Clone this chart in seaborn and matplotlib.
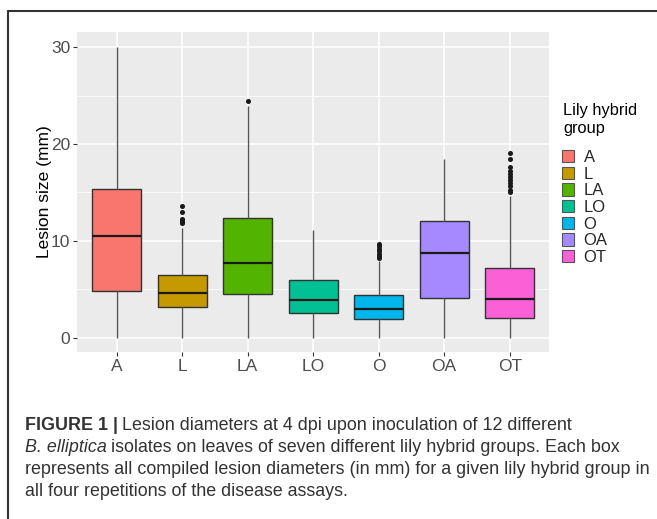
import numpy as np
import pandas as pd
import seaborn as sns
import matplotlib
matplotlib.use("Agg")
import matplotlib.pyplot as plt
from matplotlib.patches import Patch
from matplotlib.lines import Line2D

# ---- data ----
groups = ["A", "L", "LA", "LO", "O", "OA", "OT"]
whisker_lo = [0.0, 0.0, 0.0, 0.0, 0.0, 0.0, 0.0]
q1 = [4.86, 3.17, 4.55, 2.55, 1.92, 4.14, 2.07]
median = [10.5, 4.6, 7.76, 3.93, 3.0, 8.75, 4.03]
q3 = [15.37, 6.5, 12.35, 6.0, 4.4, 12.1, 7.17]
whisker_hi = [30.06, 11.33, 23.9, 11.1, 7.9, 18.5, 14.6]
outliers_A = []
outliers_L = [11.85, 12.0, 12.15, 12.3, 13.0, 13.6]
outliers_LA = [24.4]
outliers_LO = []
outliers_O = [8.2, 8.45, 8.7, 8.95, 9.2, 9.45, 9.65]
outliers_OA = []
outliers_OT = [15.0, 15.3, 15.7, 16.0, 16.3, 16.6, 16.9, 17.2, 17.6, 18.5, 19.1]
outliers = [outliers_A, outliers_L, outliers_LA, outliers_LO,
            outliers_O, outliers_OA, outliers_OT]
colors = ["#F8766D", "#C49A00", "#53B400", "#00C094", "#00B6EB", "#A58AFF", "#FB61D7"]
yticks = [0, 10, 20, 30]
ylabel = "Lesion size (mm)"
legend_title = "Lily hybrid\ngroup"

# build a sample per group whose box statistics equal the values above
rows = []
for g, lo, a, m, b, hi, outs in zip(groups, whisker_lo, q1, median, q3, whisker_hi, outliers):
    k = len(outs) + 1
    vals = [lo] + [a] * k + [m] * k + [b] * k + [hi] + list(outs)
    rows += [(g, v) for v in vals]
df = pd.DataFrame(rows, columns=["group", "size"])

sns.set_theme(style="darkgrid")
plt.rcParams["font.family"] = ["Liberation Sans", "DejaVu Sans"]

W, H = 657, 519
fig = plt.figure(figsize=(W / 100, H / 100), dpi=100)
fig.patch.set_facecolor("white")
ax = fig.add_axes([77.3 / W, 1 - 352.3 / H, (549 - 77.3) / W, (352.3 - 31.7) / H])
ax.set_facecolor("#EBEBEB")

sns.boxplot(data=df, x="group", y="size", hue="group", order=groups,
            hue_order=groups, palette=colors, saturation=1, legend=False, width=0.75,
            linewidth=1.0, linecolor="#333333", showcaps=False, whis=1.5,
            flierprops=dict(marker="o", markersize=2.6, markerfacecolor="#1a1a1a",
                            markeredgecolor="#1a1a1a"),
            medianprops=dict(color="#1a1a1a", linewidth=1.6),
            whiskerprops=dict(color="#555555", linewidth=1.0),
            ax=ax)

ax.set_xlim(-0.6, 6.6)
ax.set_ylim(-1.5, 31.6)
ax.set_yticks(yticks)
ax.set_yticks([5, 15, 25], minor=True)
ax.grid(which="major", color="white", linewidth=1.1)
ax.grid(which="minor", axis="y", color="white", linewidth=0.55)
ax.set_axisbelow(True)
for s in ax.spines.values():
    s.set_visible(False)
ax.tick_params(axis="both", which="major", length=3, width=0.8, color="#333333",
               labelcolor="#4D4D4D", labelsize=12.5, pad=2, direction="out",
               bottom=True, left=True)
ax.tick_params(axis="both", which="minor", length=0)
ax.set_xlabel("")
ax.set_ylabel(ylabel, fontsize=12.5, color="black")
ax.yaxis.set_label_coords(-0.054, 0.5)

# legend (title drawn separately so entries can sit tightly)
fig.text(563 / W, 1 - 119 / H, legend_title, fontsize=11.8, color="black",
         va="center", ha="left", linespacing=1.25)
handles = [Patch(facecolor=c, edgecolor="#555555", linewidth=0.8) for c in colors]
leg = fig.legend(handles, groups, loc="upper left",
                 bbox_to_anchor=(562 / W, 1 - 150 / H), frameon=False,
                 fontsize=12, handlelength=0.7, handleheight=0.75,
                 handletextpad=0.6, labelspacing=0.1,
                 borderaxespad=0, borderpad=0)

# outer frame
fig.add_artist(Line2D([8 / W, 1], [1 - 11 / H, 1 - 11 / H], color="#333333", lw=1.5))
fig.add_artist(Line2D([8 / W, 8 / W], [0, 1 - 11 / H], color="#333333", lw=1.5))

# caption
cap_col = "#333333"
cap_fs = 12.9
x0 = 25 / W
ys = [425, 447, 469, 491]
t1 = fig.text(x0, 1 - ys[0] / H, "FIGURE 1 |", fontsize=cap_fs, fontweight="bold",
              color=cap_col, va="center")
fig.canvas.draw()
bb = t1.get_window_extent()
fig.text((bb.x1 + 4) / W, 1 - ys[0] / H,
         "Lesion diameters at 4 dpi upon inoculation of 12 different",
         fontsize=cap_fs, color=cap_col, va="center")
t2 = fig.text(x0, 1 - ys[1] / H, "B. elliptica", fontsize=cap_fs, style="italic",
              color=cap_col, va="center")
fig.canvas.draw()
bb2 = t2.get_window_extent()
fig.text((bb2.x1 + 4) / W, 1 - ys[1] / H,
         "isolates on leaves of seven different lily hybrid groups. Each box",
         fontsize=cap_fs, color=cap_col, va="center")
fig.text(x0, 1 - ys[2] / H,
         "represents all compiled lesion diameters (in mm) for a given lily hybrid group in",
         fontsize=cap_fs, color=cap_col, va="center")
fig.text(x0, 1 - ys[3] / H, "all four repetitions of the disease assays.",
         fontsize=cap_fs, color=cap_col, va="center")

fig.savefig("out.png", dpi=100, facecolor="white")
